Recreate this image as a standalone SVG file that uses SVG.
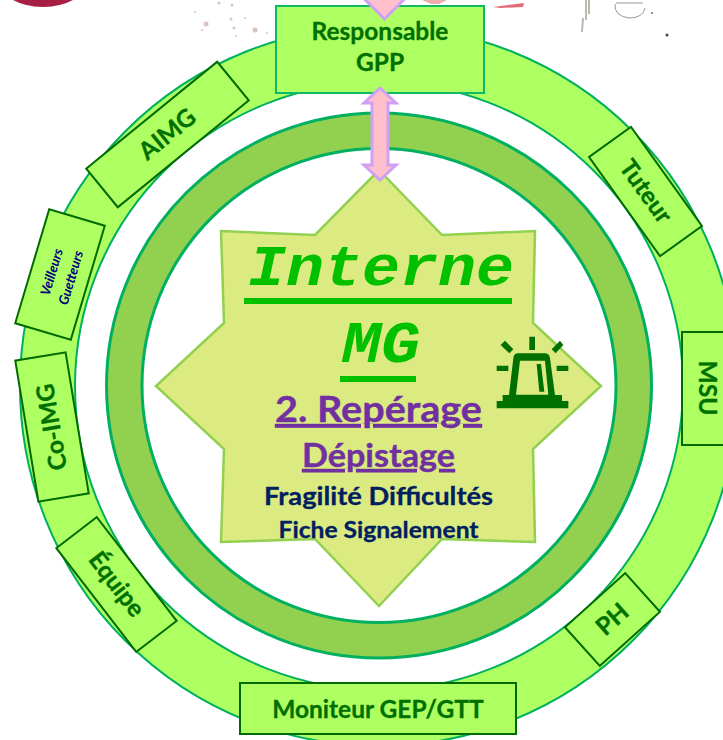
<svg xmlns="http://www.w3.org/2000/svg" width="723" height="740" viewBox="0 0 723 740">
<style>
text{font-family:"Lato","Open Sans",sans-serif;text-anchor:middle}
.l{fill:#007000;font-weight:700;font-size:24.500px;stroke:#007000;stroke-width:.3}
.b{fill:#aeff62;stroke:#006b00;stroke-width:2}
.t{fill:#aeff62;stroke:#10b86a;stroke-width:2}
.p{fill:#7030a0;font-weight:700;text-decoration:underline;stroke:#7030a0;stroke-width:.4}
.n{fill:#002060;font-weight:700;stroke:#002060;stroke-width:.3}
.m{fill:#00c000;font-family:"Liberation Mono",monospace;font-weight:700;font-style:italic}
.v{font-size:13.500px;font-weight:700;font-style:italic;fill:#000080}
.a{fill:#ffc0cb;stroke:#cfa0f5;stroke-width:3}
</style>
<rect width="723" height="740" fill="#fff"/>
<g id="background">
<ellipse cx="43" cy="-22" rx="46" ry="29" fill="#a81f45"/>
<g fill="#b98a78" opacity=".5"><circle cx="206" cy="24" r="2.500"/><circle cx="219" cy="3" r="1.500"/><circle cx="232" cy="5" r="1.500"/><circle cx="231" cy="19" r="1.500"/><circle cx="234" cy="28" r="1.500"/><circle cx="255" cy="30" r="2.500"/><circle cx="236" cy="36" r="1"/><circle cx="195" cy="12" r="1"/><circle cx="267" cy="33" r="1"/><circle cx="245" cy="18" r="1"/><circle cx="202" cy="30" r="1"/></g>
<path d="M493 7L524 3L523 7L500 8Z" fill="#d9485a" opacity=".8"/>
<path d="M422 0h25l-8 4h-8Z" fill="#e88a90" opacity=".7"/>
<path d="M586 0v20M589 0v14M583 18l-1 14" fill="none" stroke="#8a8a7a" stroke-width="2" opacity=".6"/>
<path d="M615 4q-1 12 14 14q14 0 16-10M616 3h27" fill="none" stroke="#999"/>
<circle cx="667" cy="35" r="1.500" fill="#444"/><circle cx="652" cy="13" r="1" fill="#666"/>
</g>
<g id="outer-ring"><path fill-rule="evenodd" d="M20 386a359 360 0 1 0 718 0a359 360 0 1 0-718 0ZM75 386a304 304 0 1 0 608 0a304 304 0 1 0-608 0Z" fill="#aeff62" stroke="#00b060" stroke-width="2"/></g>
<g id="inner-ring"><path fill-rule="evenodd" d="M106.500 385.500a272.500 272.500 0 1 0 545 0a272.500 272.500 0 1 0-545 0ZM142 385.500a237 237 0 1 0 474 0a237 237 0 1 0-474 0Z" fill="#92d050" stroke="#00b060" stroke-width="3"/></g>
<g id="star"><path d="M379 170L442 235L535 231L533 323L601 386L533 449L535 542L442 539L379 606L315 539L221 542L224 449L156 386L224 323L221 231L315 235Z" fill="#dcea82" stroke="#92d050" stroke-width="2.500"/>
<text class="m" x="381" y="285" font-size="58" textLength="266" lengthAdjust="spacingAndGlyphs">Interne</text>
<rect x="244" y="298" width="268" height="6" fill="#00c000"/>
<text class="m" x="381" y="362" font-size="60" textLength="78" lengthAdjust="spacingAndGlyphs">MG</text>
<rect x="340" y="376" width="76" height="6" fill="#00c000"/>
<text class="p" x="378.500" y="422" font-size="37" textLength="207" lengthAdjust="spacingAndGlyphs">2. Repérage</text>
<text class="p" x="378.500" y="467" font-size="32" textLength="153" lengthAdjust="spacingAndGlyphs">Dépistage</text>
<text class="n" x="378.500" y="505" font-size="24" textLength="229" lengthAdjust="spacingAndGlyphs">Fragilité Difficultés</text>
<text class="n" x="378.500" y="538" font-size="22" textLength="200" lengthAdjust="spacingAndGlyphs">Fiche Signalement</text>
</g>
<g id="alarm" fill="#007000" transform="translate(480 320) scale(.3333)">
<path d="M50 243H68V225H87L100 115Q101 100 115 100H195Q208 100 210 115L225 225H246V243H265V265H50Z M108 224H205L195 122H120Z" fill-rule="evenodd"/>
<path d="M170 132H183L193 215H178Z M148 50H165V90H148Z M62 75L75 62L100 88L88 100Z M215 88L240 62L250 75L227 100Z M50 137H85V153H50Z M230 137H265V153H230Z"/>
</g>
<g id="resp"><rect class="t" x="276" y="6" width="208" height="87"/><text class="l" x="380" y="40">Responsable</text><text class="l" x="380" y="71">GPP</text></g>
<g id="aimg"><g transform="translate(167.500 134.500) rotate(-39.200)"><rect class="b" x="-84.500" y="-25" width="169" height="50"/><text class="l" y="8">AIMG</text></g></g>
<g id="veilleurs"><g transform="translate(60 274.500) rotate(-73.400)"><rect class="b" x="-59.500" y="-29" width="119" height="58"/><text class="v" y="-4">Veilleurs</text><text class="v" y="16">Guetteurs</text></g></g>
<g id="coimg"><g transform="translate(52 427) rotate(-99.300)"><rect class="b" x="-71.500" y="-25.500" width="143" height="51"/><text class="l" y="8">Co-IMG</text></g></g>
<g id="equipe"><g transform="translate(116.500 584.500) rotate(52.400)"><rect class="b" x="-65.500" y="-25.500" width="131" height="51"/><text class="l" y="8">Équipe</text></g></g>
<g id="moniteur"><rect class="b" x="240" y="683" width="276" height="51"/><text class="l" x="378" y="718">Moniteur GEP/GTT</text></g>
<g id="ph"><g transform="translate(612.500 619.500) rotate(-42)"><rect class="b" x="-40.500" y="-26" width="81" height="52"/><text class="l" y="8">PH</text></g></g>
<g id="msu"><rect class="b" x="682" y="332" width="60" height="113"/><text class="l" transform="translate(699 388) rotate(90)">MSU</text></g>
<g id="tuteur"><g transform="translate(645.500 191.500) rotate(54.400)"><rect class="b" x="-61" y="-25.800" width="122" height="51.600"/><text class="l" y="8">Tuteur</text></g></g>
<g id="connectors">
<path class="a" d="M380 88l16 15h-8v62h8l-16 15l-16-15h8v-62h-8Z"/>
<path class="a" d="M384.500 19l-21-21h42Z"/>
</g>
</svg>
